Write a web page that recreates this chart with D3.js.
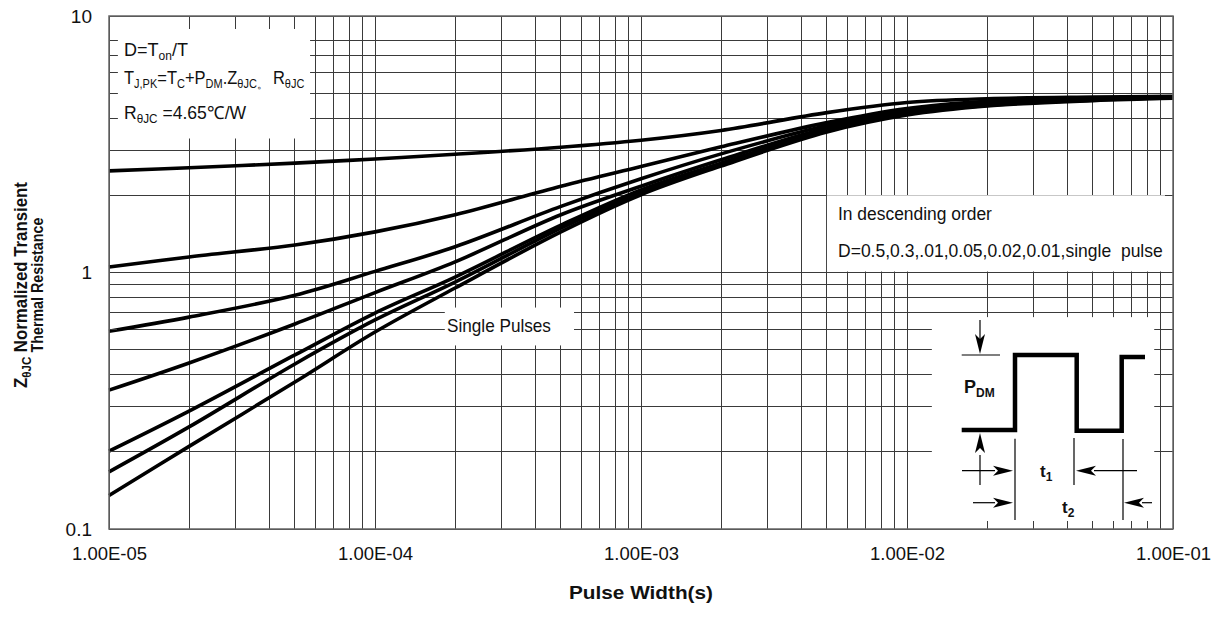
<!DOCTYPE html>
<html>
<head>
<meta charset="utf-8">
<script src="https://cdn.jsdelivr.net/npm/d3@7"></script>
<style>
  body { margin: 0; background: #fff; }
  svg { display: block; font-family: "Liberation Sans", Arial, sans-serif; }
  text { white-space: pre; }
</style>
</head>
<body>
<div id="chart"></div>
<script>
// transient thermal impedance
var pulseWidth = [1e-5, 2e-5, 5e-5, 1e-4, 2e-4, 5e-4, 1e-3, 2e-3, 5e-3, 1e-2, 2e-2, 5e-2, 1e-1];

var zD05    = [2.49, 2.56, 2.67, 2.77, 2.89, 3.08, 3.28, 3.58, 4.20, 4.60, 4.76, 4.83, 4.86];
var zD03    = [1.05, 1.15, 1.28, 1.44, 1.68, 2.17, 2.59, 3.09, 3.84, 4.36, 4.65, 4.79, 4.83];
var zD01    = [0.59, 0.67, 0.815, 1.01, 1.26, 1.81, 2.32, 2.90, 3.74, 4.28, 4.61, 4.77, 4.82];
var zD005   = [0.348, 0.444, 0.630, 0.835, 1.10, 1.68, 2.17, 2.75, 3.66, 4.22, 4.54, 4.75, 4.81];
var zD002   = [0.201, 0.288, 0.477, 0.695, 0.96, 1.53, 2.10, 2.67, 3.59, 4.17, 4.50, 4.73, 4.80];
var zD001   = [0.167, 0.250, 0.440, 0.653, 0.918, 1.49, 2.06, 2.64, 3.56, 4.15, 4.48, 4.70, 4.79];
var zSingle = [0.135, 0.210, 0.374, 0.586, 0.870, 1.44, 2.01, 2.60, 3.53, 4.11, 4.46, 4.68, 4.78];

var allCurves = [zD05, zD03, zD01, zD005, zD002, zD001, zSingle];

var xTickValues = [1e-5, 1e-4, 1e-3, 1e-2, 1e-1];
var xTickLabels = ["1.00E-05", "1.00E-04", "1.00E-03", "1.00E-02", "1.00E-01"];
var yTickValues = [0.1, 1, 10];
var yTickLabels = ["0.1", "1", "10"];

var svgWidth = 1223, svgHeight = 619;
var margin = {top: 16, right: 50, bottom: 90, left: 109};
var chartWidth = svgWidth - margin.left - margin.right;
var chartHeight = svgHeight - margin.top - margin.bottom;

var svg = d3.select("#chart").append("svg")
    .attr("width", svgWidth)
    .attr("height", svgHeight);

var chartGroup = svg.append("g")
    .attr("transform", `translate(${margin.left}, ${margin.top})`);

var xScale = d3.scaleLog().domain([1e-5, 1e-1]).range([0, chartWidth]);
var yScale = d3.scaleLog().domain([0.1, 10]).range([chartHeight, 0]);

// grid (the picture has no 9 line in the upper decade)
var xGrid = xScale.ticks();
var yGrid = yScale.ticks().filter(d => Math.abs(d - 9) > 1e-6);

chartGroup.selectAll(".vgrid").data(xGrid).enter().append("line")
    .attr("x1", d => xScale(d)).attr("x2", d => xScale(d))
    .attr("y1", 0).attr("y2", chartHeight)
    .attr("stroke", "#3a3a3a").attr("stroke-width", 1)
    .attr("shape-rendering", "crispEdges");

chartGroup.selectAll(".hgrid").data(yGrid).enter().append("line")
    .attr("y1", d => yScale(d)).attr("y2", d => yScale(d))
    .attr("x1", 0).attr("x2", chartWidth)
    .attr("stroke", "#3a3a3a").attr("stroke-width", 1)
    .attr("shape-rendering", "crispEdges");

// curves
var drawLine = d3.line()
    .x((d, i) => xScale(pulseWidth[i]))
    .y(d => yScale(d))
    .curve(d3.curveCatmullRom.alpha(0.5));

chartGroup.selectAll(".curve").data(allCurves).enter().append("path")
    .attr("d", d => drawLine(d))
    .attr("fill", "none")
    .attr("stroke", "#000")
    .attr("stroke-width", 3.6);

// white label boxes that hide the grid
var boxes = [
  {x0: 1.08e-5, x1: 5.7e-5, y0: 8.9, y1: 3.3},
  {x0: 1.83e-4, x1: 5.6e-4, y0: 0.73, y1: 0.515},
  {x0: 5e-3, x1: 1e-1, y0: 2.0, y1: 1.0},
  {x0: 1.24e-2, x1: 8.5e-2, y0: 0.67, y1: 0.104}
];
chartGroup.selectAll(".box").data(boxes).enter().append("rect")
    .attr("x", d => xScale(d.x0))
    .attr("y", d => yScale(d.y0))
    .attr("width", d => xScale(d.x1) - xScale(d.x0))
    .attr("height", d => yScale(d.y1) - yScale(d.y0) - 1)
    .attr("fill", "#fff");

// inner tick marks on all four sides
var tickLen = 8;
var tickG = chartGroup.append("g").attr("stroke", "#3a3a3a").attr("shape-rendering", "crispEdges");
xGrid.forEach(function(d) {
  tickG.append("line").attr("x1", xScale(d)).attr("x2", xScale(d)).attr("y1", 0).attr("y2", tickLen);
  tickG.append("line").attr("x1", xScale(d)).attr("x2", xScale(d)).attr("y1", chartHeight).attr("y2", chartHeight - tickLen);
});
yGrid.forEach(function(d) {
  tickG.append("line").attr("y1", yScale(d)).attr("y2", yScale(d)).attr("x1", 0).attr("x2", tickLen);
  tickG.append("line").attr("y1", yScale(d)).attr("y2", yScale(d)).attr("x1", chartWidth).attr("x2", chartWidth - tickLen);
});

// frame
chartGroup.append("rect")
    .attr("width", chartWidth).attr("height", chartHeight)
    .attr("fill", "none").attr("stroke", "#666").attr("stroke-width", 1.5);

// axes (labels only)
var bottomAxis = d3.axisBottom(xScale).tickValues(xTickValues)
    .tickFormat((d, i) => xTickLabels[i]).tickSize(0).tickPadding(18);
var leftAxis = d3.axisLeft(yScale).tickValues(yTickValues)
    .tickFormat((d, i) => yTickLabels[i]).tickSize(0).tickPadding(17);

var xAxis = chartGroup.append("g")
    .attr("transform", `translate(0, ${chartHeight})`)
    .call(bottomAxis);
var yAxis = chartGroup.append("g").call(leftAxis);

[xAxis, yAxis].forEach(function(a) {
  a.select(".domain").remove();
  a.selectAll("text").attr("fill", "#111").style("font-size", "19px")
    .style("font-family", '"Liberation Sans", Arial, sans-serif');
});
xAxis.selectAll("text").attr("textLength", 75).attr("lengthAdjust", "spacingAndGlyphs");

// text helper: segments of [string, isSubscript]; squeezed sideways to a given width
function richText(parent, x, y, parts, size, subSize, weight, width, anchor) {
  var g = parent.append("g");
  var t = g.append("text").attr("x", 0).attr("y", 0)
      .attr("fill", "#111").style("font-size", size + "px").style("font-weight", weight || "normal");
  var shifted = false;
  parts.forEach(function(p) {
    var s = t.append("tspan").text(p[0]);
    if (p[1]) s.style("font-size", subSize + "px");
    if (p[1] && !shifted) { s.attr("dy", 4); shifted = true; }
    else if (!p[1] && shifted) { s.attr("dy", -4); shifted = false; }
  });
  var natural = t.node().getComputedTextLength();
  var w = width || natural;
  var sx = w / natural;
  var x0 = anchor === "middle" ? x - w / 2 : x;
  g.attr("transform", `translate(${x0}, ${y}) scale(${sx}, 1)`);
  return g;
}

// top-left note
richText(svg, 124, 56, [["D=T", 0], ["on", 1], ["/T", 0]], 18, 12, "normal", 64);
richText(svg, 124, 83.5, [["T", 0], ["J,PK", 1], ["=T", 0], ["C", 1], ["+P", 0], ["DM", 1], [".Z", 0], ["θJC。", 1], [" R", 0], ["θJC", 1]], 18, 12, "normal", 180);
richText(svg, 124, 119, [["R", 0], ["θJC", 1], [" =4.65℃/W", 0]], 18, 12, "normal", 122);

// right note
richText(svg, 838, 219.5, [["In descending order", 0]], 19, 13, "normal", 154);
richText(svg, 838, 257, [["D=0.5,0.3,.01,0.05,0.02,0.01,single  pulse", 0]], 19, 13, "normal", 325);

// single pulses label
richText(svg, 447, 331.5, [["Single Pulses", 0]], 19, 13, "normal", 104);

// axis titles
richText(svg, margin.left + chartWidth / 2, 599, [["Pulse Width(s)", 0]], 19, 13, "bold", 144, "middle");

var yTitle = svg.append("g").attr("transform", "translate(27, 285) rotate(-90)");
richText(yTitle, 0, 0, [["Z", 0], ["θJC", 1], [" Normalized Transient", 0]], 19, 13, "bold", 206, "middle");
richText(yTitle, 0, 16, [["Thermal Resistance", 0]], 17, 12, "bold", 135, "middle");

// pulse sketch, inside the lower right box
var sketch = svg.append("g").attr("transform", "translate(957, 317)");
sketch.append("path")
    .attr("d", d3.line()([[4.7, 113], [58, 113], [58, 38], [119.7, 38], [119.7, 113.7], [164.7, 113.7], [164.7, 40], [188, 40]]))
    .attr("fill", "none").attr("stroke", "#000").attr("stroke-width", 4.5);

var thin = [
  [[4.7, 38], [43, 38]],
  [[23, 3], [23, 24]],
  [[23, 138], [23, 168]],
  [[58, 121.7], [58, 203]],
  [[117, 121], [117, 168]],
  [[166, 122], [166, 203]],
  [[5, 153.7], [38, 153.7]],
  [[137, 153.7], [180, 153.7]],
  [[16, 185.7], [38, 185.7]],
  [[185, 185.7], [195, 185.7]]
];
sketch.selectAll(".thin").data(thin).enter().append("path")
    .attr("d", d => d3.line()(d))
    .attr("stroke", "#000").attr("stroke-width", 1.2).attr("fill", "none");

// arrowheads: tip point, direction
var heads = [
  {tip: [23, 37], dir: "down"},
  {tip: [23, 116], dir: "up"},
  {tip: [56, 153.7], dir: "right"},
  {tip: [119, 153.7], dir: "left"},
  {tip: [56, 185.7], dir: "right"},
  {tip: [167, 185.7], dir: "left"}
];
function headPath(h) {
  var x = h.tip[0], y = h.tip[1], L = 20, W = 5;
  if (h.dir === "down") return [[x, y], [x - W, y - L], [x, y - L + 5], [x + W, y - L]];
  if (h.dir === "up") return [[x, y], [x - W, y + L], [x, y + L - 5], [x + W, y + L]];
  if (h.dir === "right") return [[x, y], [x - L, y - W], [x - L + 5, y], [x - L, y + W]];
  return [[x, y], [x + L, y - W], [x + L - 5, y], [x + L, y + W]];
}
sketch.selectAll(".head").data(heads).enter().append("path")
    .attr("d", d => d3.line()(headPath(d)) + "Z")
    .attr("fill", "#000");

richText(sketch, 7, 76, [["P", 0], ["DM", 1]], 18, 12, "bold");
richText(sketch, 83, 160, [["t", 0], ["1", 1]], 17, 12, "bold");
richText(sketch, 105, 196, [["t", 0], ["2", 1]], 17, 12, "bold");
</script>
</body>
</html>
